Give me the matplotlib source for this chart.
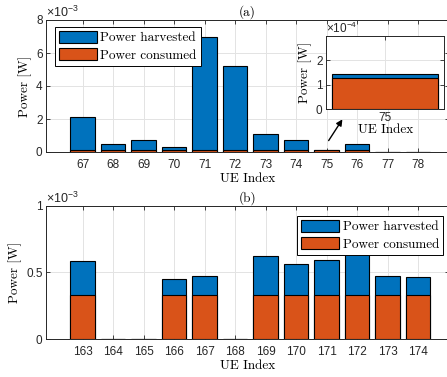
import numpy as np
import matplotlib.pyplot as plt
from matplotlib.ticker import FuncFormatter

plt.rcParams['font.family'] = ['Liberation Sans', 'DejaVu Sans']
plt.rcParams['mathtext.fontset'] = 'custom'
plt.rcParams['mathtext.rm'] = 'Liberation Sans'
plt.rcParams['mathtext.it'] = 'Liberation Sans:italic'

# Данные: панель (a)
ue_a = [67, 68, 69, 70, 71, 72, 73, 74, 75, 76, 77, 78]
harv_a = [2.1e-3, 0.48e-3, 0.70e-3, 0.30e-3, 7.0e-3, 5.2e-3, 1.1e-3, 0.72e-3, 1.45e-4, 0.47e-3, 0, 0]
cons_a = [1.28e-4, 1.28e-4, 1.28e-4, 1.28e-4, 1.28e-4, 1.28e-4, 1.28e-4, 1.28e-4, 1.28e-4, 1.28e-4, 0, 0]

# Данные: панель (b)
ue_b = [163, 164, 165, 166, 167, 168, 169, 170, 171, 172, 173, 174]
harv_b = [0.583e-3, 0, 0, 0.448e-3, 0.47e-3, 0, 0.625e-3, 0.565e-3, 0.593e-3, 0.70e-3, 0.47e-3, 0.468e-3]
cons_b = [0.332e-3, 0, 0, 0.332e-3, 0.332e-3, 0, 0.332e-3, 0.332e-3, 0.332e-3, 0.332e-3, 0.332e-3, 0.332e-3]

c_harv = '#0072BD'
c_cons = '#D95319'
serif = 'cmr10'
W, H = 447, 377


def style(ax, scale):
    ax.set_axisbelow(True)
    ax.grid(True, color='#e3e3e3', linewidth=0.7)
    ax.tick_params(direction='in', length=3, width=0.6, top=True, right=True,
                   labelsize=8.5, colors='#262626', pad=2.5)
    ax.tick_params(axis='x', pad=5)
    for s in ax.spines.values():
        s.set_color('#262626')
        s.set_linewidth(0.7)
    ax.yaxis.set_major_formatter(FuncFormatter(lambda v, p: '%g' % round(v / scale, 6)))


def bars(ax, x, h, c):
    ax.bar(x, h, width=0.8, color=c_harv, edgecolor='black', linewidth=0.8, label='Power harvested')
    ax.bar(x, c, width=0.8, color=c_cons, edgecolor='black', linewidth=0.8, label='Power consumed')


def expo(ax, txt, fs=9):
    ax.text(0.0, 1.0, txt, transform=ax.transAxes, ha='left', va='bottom',
            fontsize=fs, color='#262626', clip_on=False, zorder=10)


fig = plt.figure(figsize=(W / 100, H / 100), dpi=100)
left = 46 / W
width = (448.5 - 46) / W

# (a)
ax1 = fig.add_axes([left, 1 - 152 / H, width, 132 / H])
bars(ax1, ue_a, harv_a, cons_a)
ax1.set_xlim(65.8, 79.0)
ax1.set_ylim(0, 8e-3)
ax1.set_xticks(ue_a)
ax1.set_yticks([0, 2e-3, 4e-3, 6e-3, 8e-3])
style(ax1, 1e-3)
expo(ax1, r'$\times10^{-3}$')
ax1.set_xlabel('UE Index', family=serif, fontsize=9.5, labelpad=1.5)
ax1.set_ylabel('Power [W]', family=serif, fontsize=9.5, labelpad=3)
ax1.set_title('(a)', family=serif, fontsize=9.5, pad=3)
ax1.legend(loc='upper left', bbox_to_anchor=(0.022, 0.947), borderaxespad=0,
           prop={'family': serif, 'size': 9.5}, fancybox=False, edgecolor='black',
           framealpha=1, handlelength=2.9, handleheight=1.0, handletextpad=0.25,
           labelspacing=0.3, borderpad=0.3).get_frame().set_linewidth(0.7)
ax1.annotate('', xy=(75.57, 2.12e-3), xytext=(75.02, 0.55e-3),
             arrowprops=dict(arrowstyle='-|>', color='black', lw=1.0, mutation_scale=9))

# вставка
axi = fig.add_axes([326 / W, 1 - 109 / H, 118.3 / W, 73.3 / H])
bars(axi, [ue_a[8]], [harv_a[8]], [cons_a[8]])
axi.set_xlim(74.555, 75.445)
axi.set_ylim(0, 3e-4)
axi.set_xticks([75])
axi.set_yticks([0, 1e-4, 2e-4])
style(axi, 1e-4)
axi.tick_params(axis='x', pad=2)
expo(axi, r'$\times10^{-4}$', fs=8.5)
axi.set_xlabel('UE Index', family=serif, fontsize=9.5, labelpad=0)
axi.set_ylabel('Power [W]', family=serif, fontsize=9.5, labelpad=3)

# (b)
ax2 = fig.add_axes([left, 1 - 339 / H, width, 133.3 / H])
bars(ax2, ue_b, harv_b, cons_b)
ax2.set_xlim(161.8, 175.0)
ax2.set_ylim(0, 1e-3)
ax2.set_xticks(ue_b)
ax2.set_yticks([0, 0.5e-3, 1e-3])
style(ax2, 1e-3)
expo(ax2, r'$\times10^{-3}$')
ax2.set_xlabel('UE Index', family=serif, fontsize=9.5, labelpad=1.5)
ax2.set_ylabel('Power [W]', family=serif, fontsize=9.5, labelpad=3)
ax2.set_title('(b)', family=serif, fontsize=9.5, pad=3)
ax2.legend(loc='upper right', bbox_to_anchor=(0.986, 0.923), borderaxespad=0,
           prop={'family': serif, 'size': 9.5}, fancybox=False, edgecolor='black',
           framealpha=1, handlelength=2.9, handleheight=1.0, handletextpad=0.25,
           labelspacing=0.3, borderpad=0.3).get_frame().set_linewidth(0.7)

fig.savefig('out.png', dpi=100)
